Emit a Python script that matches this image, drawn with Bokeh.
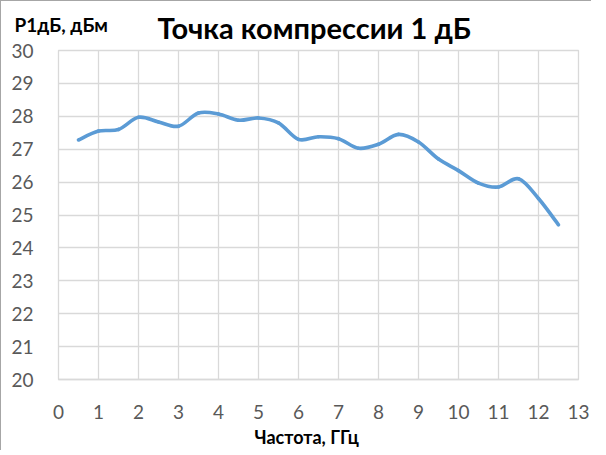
from bokeh.plotting import figure
from bokeh.models import Title, FixedTicker, ColumnDataSource
from bokeh.embed import file_html
from bokeh.resources import INLINE

freq = [0.5, 1.0, 1.5, 2.0, 2.5, 3.0, 3.5, 4.0, 4.5, 5.0, 5.5, 6.0, 6.5,
        7.0, 7.5, 8.0, 8.5, 9.0, 9.5, 10.0, 10.5, 11.0, 11.5, 12.0, 12.5]
p1db = [27.28, 27.55, 27.6, 27.97, 27.83, 27.7, 28.1, 28.07, 27.88, 27.95, 27.8, 27.3, 27.38,
        27.32, 27.03, 27.15, 27.45, 27.22, 26.7, 26.35, 25.97, 25.85, 26.1, 25.5, 24.7]
x_ticks = list(range(0, 14))
y_ticks = list(range(20, 31))

title_text = "Точка компрессии 1 дБ"
x_label = "Частота, ГГц"
y_label = "P1дБ, дБм"

FONT = "Lato"
LINE_COLOR = "#5b9bd5"
GRID = "#d9d9d9"
TICK_COLOR = "#595959"

p = figure(frame_width=520, frame_height=329, output_backend="svg",
           toolbar_location=None, x_range=(0, 13), y_range=(20, 30),
           min_border_left=57, min_border_top=49, min_border_right=13,
           min_border_bottom=61)
p.styles = {"border-left": "1px solid #a6a6a6", "border-top": "1px solid #a6a6a6"}
p.outline_line_color = GRID
p.outline_line_width = 1.3

for ax in (p.xaxis[0], p.yaxis[0]):
    ax.major_tick_line_color = None
    ax.minor_tick_line_color = None
    ax.major_label_text_font = FONT
    ax.major_label_text_font_size = "19px"
    ax.major_label_text_color = TICK_COLOR
    ax.axis_line_color = GRID
    ax.axis_line_width = 1.3
p.yaxis[0].axis_line_color = None
p.xaxis[0].ticker = FixedTicker(ticks=x_ticks)
p.yaxis[0].ticker = FixedTicker(ticks=y_ticks)
p.xaxis[0].major_label_standoff = 19
p.yaxis[0].major_label_standoff = 19
p.xgrid[0].ticker = FixedTicker(ticks=x_ticks)
p.ygrid[0].ticker = FixedTicker(ticks=y_ticks)
p.xgrid.grid_line_color = GRID
p.ygrid.grid_line_color = GRID
p.xgrid.grid_line_width = 1.3
p.ygrid.grid_line_width = 1.3

# Smoothed line (Catmull-Rom style bezier segments, like Excel's smoothed line)
n = len(freq)
x0, y0, x1, y1, cx0, cy0, cx1, cy1 = [], [], [], [], [], [], [], []
for i in range(n - 1):
    pa = (freq[max(i - 1, 0)], p1db[max(i - 1, 0)])
    pb = (freq[i], p1db[i])
    pc = (freq[i + 1], p1db[i + 1])
    pd = (freq[min(i + 2, n - 1)], p1db[min(i + 2, n - 1)])
    x0.append(pb[0]); y0.append(pb[1])
    x1.append(pc[0]); y1.append(pc[1])
    cx0.append(pb[0] + (pc[0] - pa[0]) / 6); cy0.append(pb[1] + (pc[1] - pa[1]) / 6)
    cx1.append(pc[0] - (pd[0] - pb[0]) / 6); cy1.append(pc[1] - (pd[1] - pb[1]) / 6)
src = ColumnDataSource(dict(x0=x0, y0=y0, x1=x1, y1=y1, cx0=cx0, cy0=cy0, cx1=cx1, cy1=cy1))
p.bezier(x0="x0", y0="y0", x1="x1", y1="y1", cx0="cx0", cy0="cy0", cx1="cx1", cy1="cy1",
         source=src, line_color=LINE_COLOR, line_width=3.6, line_cap="round")

p.title.text = ""

# Main title (added first -> nearest the frame)
mt = Title(text=title_text, align="left", offset=99, standoff=11,
           text_font=FONT, text_font_style="bold", text_font_size="29px",
           text_color="#000000")
p.add_layout(mt, "above")

# Y-axis label, horizontal at top-left (outer panel, pulled down into the title row)
yl = Title(text=y_label, align="left", offset=-44, standoff=-67,
           text_font=FONT, text_font_style="bold", text_font_size="19px",
           text_color="#000000")
p.add_layout(yl, "above")

# X-axis label
xl = Title(text=x_label, align="left", offset=196, standoff=5,
           text_font=FONT, text_font_style="bold", text_font_size="18px",
           text_color="#000000")
p.add_layout(xl, "below")

open("out.html", "w").write(file_html(p, INLINE))
